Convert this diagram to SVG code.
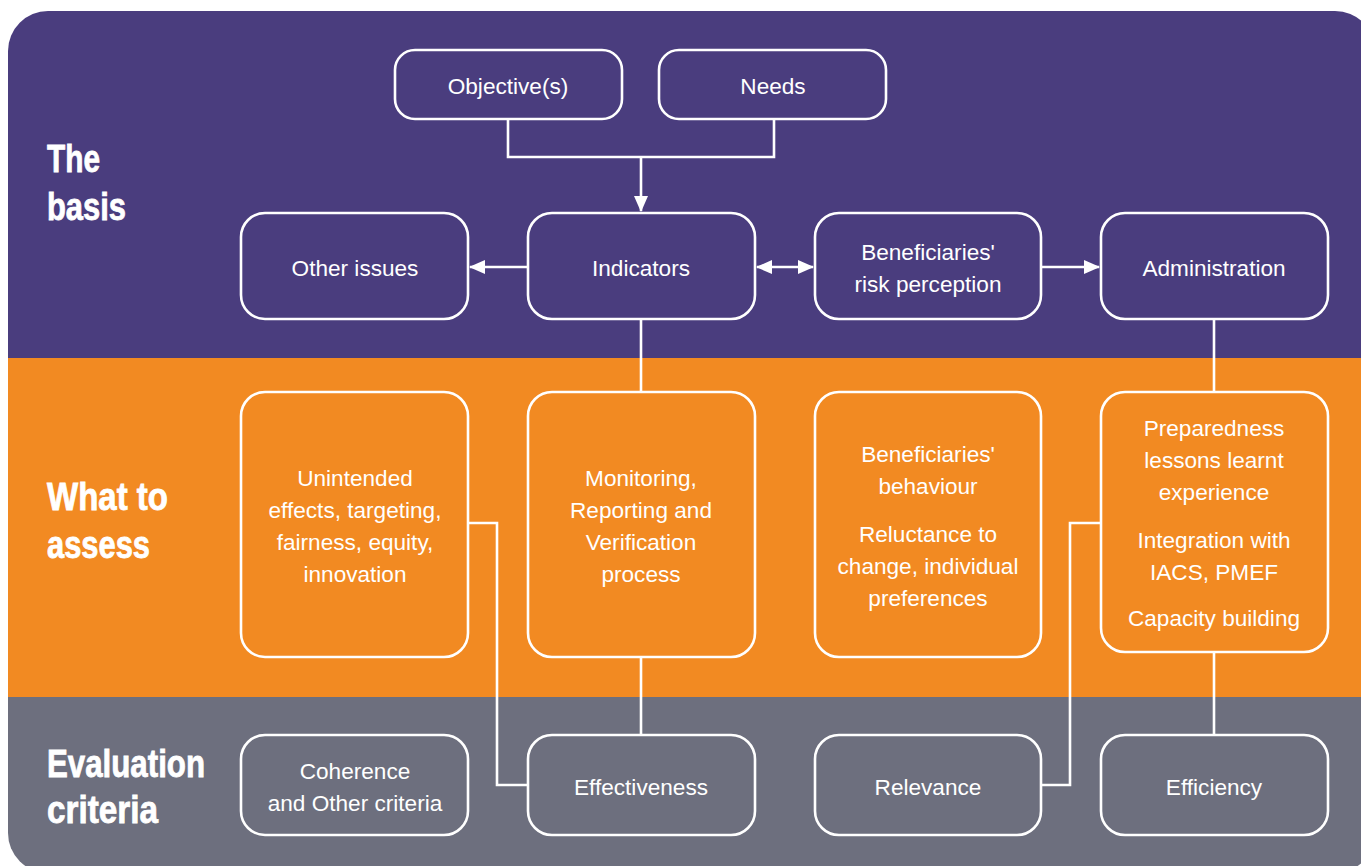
<svg xmlns="http://www.w3.org/2000/svg" width="1361" height="866" viewBox="0 0 1361 866">
<style>
.box{fill:none;stroke:#fff;stroke-width:2.6}
.ln{fill:none;stroke:#fff;stroke-width:2.6}
.t{font-family:"Liberation Sans",Arial,sans-serif;font-size:22.6px;fill:#fff;text-anchor:middle}
.h{font-family:"Liberation Sans",Arial,sans-serif;font-weight:bold;font-size:38px;fill:#fff;stroke:#fff;stroke-width:0.8}
</style>
<defs>
<clipPath id="bg"><rect x="8" y="11" width="1367" height="862" rx="40"/></clipPath>
<marker id="ah" markerUnits="userSpaceOnUse" markerWidth="18" markerHeight="16" refX="15" refY="8" orient="auto-start-reverse"><path d="M0,1 L16,8 L0,15 Z" fill="#fff"/></marker>
</defs>
<rect width="1361" height="866" fill="#fff"/>
<g id="bands" clip-path="url(#bg)">
<rect x="0" y="0" width="1400" height="358" fill="#4a3d7e"/>
<rect x="0" y="358" width="1400" height="339" fill="#f28a22"/>
<rect x="0" y="697" width="1400" height="200" fill="#6d6f7e"/>
</g>
<g id="headings">
<text class="h" x="47" y="172" textLength="53" lengthAdjust="spacingAndGlyphs">The</text>
<text class="h" x="47" y="220" textLength="79" lengthAdjust="spacingAndGlyphs">basis</text>
<text class="h" x="47" y="510" textLength="121" lengthAdjust="spacingAndGlyphs">What to</text>
<text class="h" x="47" y="558" textLength="103" lengthAdjust="spacingAndGlyphs">assess</text>
<text class="h" x="47" y="777" textLength="158" lengthAdjust="spacingAndGlyphs">Evaluation</text>
<text class="h" x="47" y="823" textLength="111" lengthAdjust="spacingAndGlyphs">criteria</text>
</g>
<g id="connectors">
<path class="ln" d="M508,119 V157 H774 V119"/>
<path class="ln" d="M641,157 V211" marker-end="url(#ah)"/>
<path class="ln" d="M528,267 H470" marker-end="url(#ah)"/>
<path class="ln" d="M757,267 H813" marker-start="url(#ah)" marker-end="url(#ah)"/>
<path class="ln" d="M1041,267 H1099" marker-end="url(#ah)"/>
<path class="ln" d="M641,319 V392"/>
<path class="ln" d="M641,657 V735"/>
<path class="ln" d="M1214,319 V392"/>
<path class="ln" d="M1214,652 V735"/>
<path class="ln" d="M468,523 H497 V785 H528"/>
<path class="ln" d="M1041,785 H1070 V523 H1101"/>
</g>
<g id="n-objectives"><rect class="box" x="395" y="50" width="227" height="69" rx="20"/><text class="t" x="508" y="94">Objective(s)</text></g>
<g id="n-needs"><rect class="box" x="659" y="50" width="227" height="69" rx="20"/><text class="t" x="773" y="94">Needs</text></g>
<g id="n-other"><rect class="box" x="241" y="213" width="227" height="106" rx="24"/><text class="t" x="355" y="276">Other issues</text></g>
<g id="n-indicators"><rect class="box" x="528" y="213" width="227" height="106" rx="24"/><text class="t" x="641" y="276">Indicators</text></g>
<g id="n-risk"><rect class="box" x="815" y="213" width="226" height="106" rx="24"/><text class="t" x="928" y="260">Beneficiaries'</text><text class="t" x="928" y="292">risk perception</text></g>
<g id="n-admin"><rect class="box" x="1101" y="213" width="227" height="106" rx="24"/><text class="t" x="1214" y="276">Administration</text></g>
<g id="n-unintended"><rect class="box" x="241" y="392" width="227" height="265" rx="24"/><text class="t" x="355" y="486">Unintended</text><text class="t" x="355" y="518">effects, targeting,</text><text class="t" x="355" y="550">fairness, equity,</text><text class="t" x="355" y="582">innovation</text></g>
<g id="n-monitoring"><rect class="box" x="528" y="392" width="227" height="265" rx="24"/><text class="t" x="641" y="486">Monitoring,</text><text class="t" x="641" y="518">Reporting and</text><text class="t" x="641" y="550">Verification</text><text class="t" x="641" y="582">process</text></g>
<g id="n-behaviour"><rect class="box" x="815" y="392" width="226" height="265" rx="24"/><text class="t" x="928" y="462">Beneficiaries'</text><text class="t" x="928" y="494">behaviour</text><text class="t" x="928" y="542">Reluctance to</text><text class="t" x="928" y="574">change, individual</text><text class="t" x="928" y="606">preferences</text></g>
<g id="n-preparedness"><rect class="box" x="1101" y="392" width="227" height="260" rx="24"/><text class="t" x="1214" y="436">Preparedness</text><text class="t" x="1214" y="468">lessons learnt</text><text class="t" x="1214" y="500">experience</text><text class="t" x="1214" y="548">Integration with</text><text class="t" x="1214" y="580">IACS, PMEF</text><text class="t" x="1214" y="626">Capacity building</text></g>
<g id="n-coherence"><rect class="box" x="241" y="735" width="227" height="100" rx="24"/><text class="t" x="355" y="779">Coherence</text><text class="t" x="355" y="811">and Other criteria</text></g>
<g id="n-effectiveness"><rect class="box" x="528" y="735" width="227" height="100" rx="24"/><text class="t" x="641" y="795">Effectiveness</text></g>
<g id="n-relevance"><rect class="box" x="815" y="735" width="226" height="100" rx="24"/><text class="t" x="928" y="795">Relevance</text></g>
<g id="n-efficiency"><rect class="box" x="1101" y="735" width="227" height="100" rx="24"/><text class="t" x="1214" y="795">Efficiency</text></g>
</svg>
